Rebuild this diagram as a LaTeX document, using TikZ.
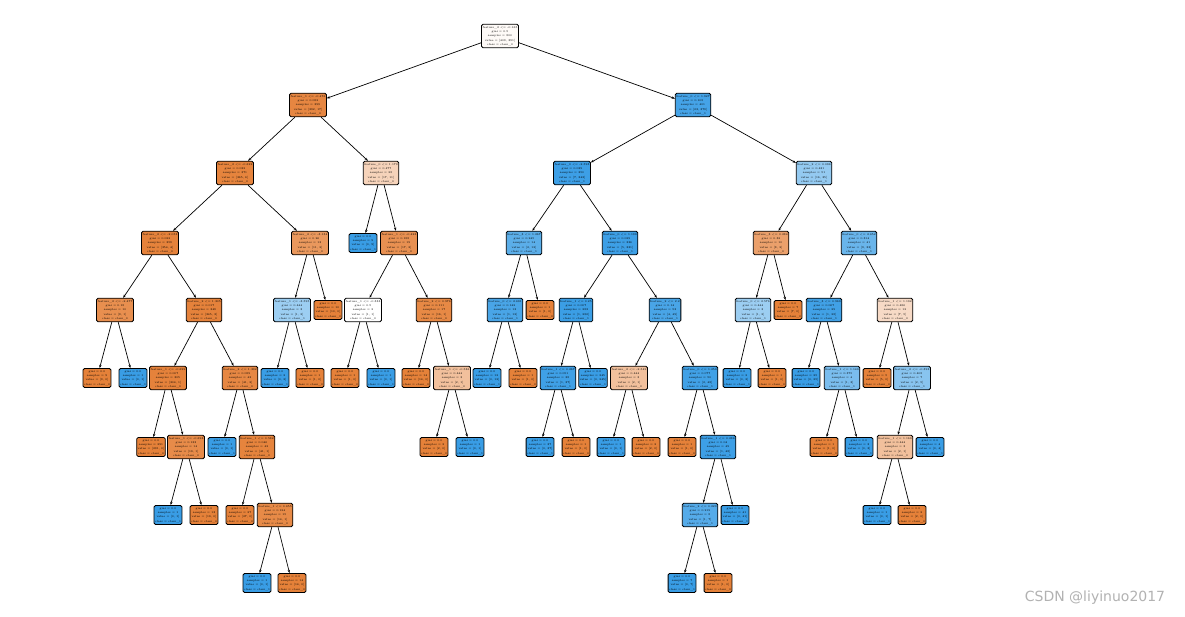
\documentclass[tikz,border=0pt]{standalone}
\usepackage{fontspec}
\usetikzlibrary{arrows.meta}
\newfontfamily\wmfont{DejaVu Sans}
\definecolor{ora}{HTML}{E58139}
\definecolor{blu}{HTML}{399DE5}
\newcommand{\splt}[6]{feature\_#1 <= #2\\gini = #3\\samples = #4\\value = [#5]\\class = class\_#6}
\newcommand{\lft}[3]{gini = 0.0\\samples = #1\\value = [#2]\\class = class\_#3}
\tikzset{
  box/.style={draw, line width=0.8pt, rounded corners=1.5pt, align=center, inner xsep=1pt, inner ysep=2pt, font=\fontsize{2.8}{4.3}\selectfont},
  edge/.style={-{Stealth[length=3.2pt,width=2.4pt]}, line width=0.7pt}
}
\begin{document}
\begin{tikzpicture}[x=1pt, y=-1pt]
		%%%%% START %%%%%
		\useasboundingbox[fill=white] (0,0) rectangle (1185,617);
		
		% level 0 and 1
		\node[box, fill=ora!4] (t) at (500,36) {\splt{2}{-0.165}{0.5}{800}{409, 391}{0}};
		\node[box, fill=ora!96] (t0) at (308,105) {\splt{1}{-0.476}{0.082}{399}{382, 17}{0}};
		\node[box, fill=blu!94] (t1) at (693,105) {\splt{0}{1.827}{0.108}{401}{23, 378}{1}};
		
		% level 2
		\node[box, fill=ora!98] (t00) at (235,173) {\splt{2}{-0.622}{0.032}{371}{365, 6}{0}};
		\node[box, fill=ora!35] (t01) at (381,173) {\splt{0}{1.179}{0.477}{28}{17, 11}{0}};
		\node[box, fill=blu!98] (t10) at (572,173) {\splt{0}{-2.598}{0.039}{350}{7, 343}{1}};
		\node[box, fill=blu!54] (t11) at (814,173) {\splt{2}{0.036}{0.431}{51}{16, 35}{1}};
		
		% level 3
		\node[box, fill=ora!99] (t000) at (160,243) {\splt{2}{-2.053}{0.022}{358}{354, 4}{0}};
		\node[box, fill=ora!82] (t001) at (310,243) {\splt{2}{-3.184}{0.26}{13}{11, 2}{0}};
		\node[box, fill=blu] (t010) at (363,243) {\lft{9}{0, 9}{1}};
		\node[box, fill=ora!88] (t011) at (399,243) {\splt{1}{-0.423}{0.188}{19}{17, 2}{0}};
		\node[box, fill=blu!83] (t100) at (524,243) {\splt{3}{1.267}{0.245}{14}{2, 12}{1}};
		\node[box, fill=blu!98] (t101) at (620,243) {\splt{0}{1.193}{0.029}{336}{5, 331}{1}};
		\node[box, fill=ora!75] (t110) at (771,243) {\splt{3}{0.284}{0.32}{10}{8, 2}{0}};
		\node[box, fill=blu!76] (t111) at (859,243) {\splt{0}{2.652}{0.314}{41}{8, 33}{1}};
		
		% level 4
		\node[box, fill=ora!89] (t0000) at (115,310) {\splt{2}{-2.477}{0.18}{10}{9, 1}{0}};
		\node[box, fill=ora!99] (t0001) at (204,310) {\splt{2}{1.305}{0.017}{348}{345, 3}{0}};
		\node[box, fill=blu!50] (t0010) at (292,310) {\splt{1}{-3.595}{0.444}{3}{1, 2}{1}};
		\node[box, fill=ora] (t0011) at (328,310) {\lft{10}{10, 0}{0}};
		\node[box, fill=white] (t0110) at (363,310) {\splt{1}{-0.833}{0.5}{2}{1, 1}{0}};
		\node[box, fill=ora!94] (t0111) at (434,310) {\splt{2}{0.976}{0.111}{17}{16, 1}{0}};
		\node[box, fill=blu!92] (t1000) at (505,310) {\splt{0}{2.631}{0.142}{13}{1, 12}{1}};
		\node[box, fill=ora] (t1001) at (540,310) {\lft{1}{1, 0}{0}};
		\node[box, fill=blu!99] (t1010) at (576,310) {\splt{1}{0.25}{0.007}{283}{1, 282}{1}};
		\node[box, fill=blu!92] (t1011) at (665,310) {\splt{2}{2.2}{0.14}{53}{4, 49}{1}};
		\node[box, fill=blu!50] (t1100) at (753,310) {\splt{0}{2.576}{0.444}{3}{1, 2}{1}};
		\node[box, fill=ora] (t1101) at (788,310) {\lft{7}{7, 0}{0}};
		\node[box, fill=blu!96] (t1110) at (824,310) {\splt{3}{0.963}{0.067}{29}{1, 28}{1}};
		\node[box, fill=ora!29] (t1111) at (895,310) {\splt{1}{1.132}{0.486}{12}{7, 5}{0}};
		
		% level 5
		\node[box, fill=ora] (t00000) at (97,378) {\lft{9}{9, 0}{0}};
		\node[box, fill=blu] (t00001) at (133,378) {\lft{1}{0, 1}{1}};
		\node[box, fill=ora!99] (t00010) at (168,378) {\splt{1}{-0.699}{0.007}{305}{304, 1}{0}};
		\node[box, fill=ora!95] (t00011) at (240,378) {\splt{2}{1.392}{0.089}{43}{41, 2}{0}};
		\node[box, fill=blu] (t00100) at (275,378) {\lft{2}{0, 2}{1}};
		\node[box, fill=ora] (t00101) at (310,378) {\lft{1}{1, 0}{0}};
		\node[box, fill=ora] (t01100) at (345,378) {\lft{1}{1, 0}{0}};
		\node[box, fill=blu] (t01101) at (381,378) {\lft{1}{0, 1}{1}};
		\node[box, fill=ora] (t01110) at (416,378) {\lft{14}{14, 0}{0}};
		\node[box, fill=ora!50] (t01111) at (452,378) {\splt{1}{-0.536}{0.444}{3}{2, 1}{0}};
		\node[box, fill=blu] (t10000) at (487,378) {\lft{12}{0, 12}{1}};
		\node[box, fill=ora] (t10001) at (523,378) {\lft{1}{1, 0}{0}};
		\node[box, fill=blu!97] (t10100) at (558,378) {\splt{1}{0.267}{0.051}{38}{1, 37}{1}};
		\node[box, fill=blu] (t10101) at (593,378) {\lft{245}{0, 245}{1}};
		\node[box, fill=ora!50] (t10110) at (629,378) {\splt{2}{-2.549}{0.444}{3}{2, 1}{0}};
		\node[box, fill=blu!96] (t10111) at (700,378) {\splt{0}{1.253}{0.077}{50}{2, 48}{1}};
		\node[box, fill=blu] (t11000) at (737,378) {\lft{2}{0, 2}{1}};
		\node[box, fill=ora] (t11001) at (772,378) {\lft{1}{1, 0}{0}};
		\node[box, fill=blu] (t11100) at (806,378) {\lft{25}{0, 25}{1}};
		\node[box, fill=blu!67] (t11101) at (842,378) {\splt{1}{1.143}{0.375}{4}{1, 3}{1}};
		\node[box, fill=ora] (t11110) at (877,378) {\lft{5}{5, 0}{0}};
		\node[box, fill=blu!60] (t11111) at (912,378) {\splt{2}{-0.893}{0.408}{7}{2, 5}{1}};
		
		% level 6
		\node[box, fill=ora] (t000100) at (151,447) {\lft{291}{291, 0}{0}};
		\node[box, fill=ora!92] (t000101) at (186,447) {\splt{1}{-0.693}{0.133}{14}{13, 1}{0}};
		\node[box, fill=blu] (t000110) at (222,447) {\lft{1}{0, 1}{1}};
		\node[box, fill=ora!98] (t000111) at (257,447) {\splt{1}{0.582}{0.046}{42}{41, 1}{0}};
		\node[box, fill=ora] (t011110) at (434,447) {\lft{2}{2, 0}{0}};
		\node[box, fill=blu] (t011111) at (470,447) {\lft{1}{0, 1}{1}};
		\node[box, fill=blu] (t101000) at (540,447) {\lft{37}{0, 37}{1}};
		\node[box, fill=ora] (t101001) at (576,447) {\lft{1}{1, 0}{0}};
		\node[box, fill=blu] (t101100) at (611,447) {\lft{1}{0, 1}{1}};
		\node[box, fill=ora] (t101101) at (646,447) {\lft{2}{2, 0}{0}};
		\node[box, fill=ora] (t101110) at (682,447) {\lft{1}{1, 0}{0}};
		\node[box, fill=blu!98] (t101111) at (718,447) {\splt{1}{0.286}{0.04}{49}{1, 48}{1}};
		\node[box, fill=ora] (t111010) at (824,447) {\lft{1}{1, 0}{0}};
		\node[box, fill=blu] (t111011) at (859,447) {\lft{3}{0, 3}{1}};
		\node[box, fill=ora!50] (t111110) at (895,447) {\splt{1}{1.163}{0.444}{3}{2, 1}{0}};
		\node[box, fill=blu] (t111111) at (930,447) {\lft{4}{0, 4}{1}};
		
		% level 7
		\node[box, fill=blu] (t0001010) at (168,515) {\lft{1}{0, 1}{1}};
		\node[box, fill=ora] (t0001011) at (204,515) {\lft{13}{13, 0}{0}};
		\node[box, fill=ora] (t0001110) at (240,515) {\lft{27}{27, 0}{0}};
		\node[box, fill=ora!93] (t0001111) at (275,515) {\splt{1}{0.655}{0.124}{15}{14, 1}{0}};
		\node[box, fill=blu!86] (t1011110) at (700,515) {\splt{2}{0.229}{0.219}{8}{1, 7}{1}};
		\node[box, fill=blu] (t1011111) at (735,515) {\lft{41}{0, 41}{1}};
		\node[box, fill=blu] (t1111100) at (877,515) {\lft{1}{0, 1}{1}};
		\node[box, fill=ora] (t1111101) at (912,515) {\lft{2}{2, 0}{0}};
		
		% level 8
		\node[box, fill=blu] (t00011110) at (257,583) {\lft{1}{0, 1}{1}};
		\node[box, fill=ora] (t00011111) at (292,583) {\lft{14}{14, 0}{0}};
		\node[box, fill=blu] (t10111100) at (682,583) {\lft{7}{0, 7}{1}};
		\node[box, fill=ora] (t10111101) at (718,583) {\lft{1}{1, 0}{0}};
		
		% edges
		\draw[edge] (t) -- (t0); \draw[edge] (t) -- (t1);
		\draw[edge] (t0) -- (t00); \draw[edge] (t0) -- (t01);
		\draw[edge] (t1) -- (t10); \draw[edge] (t1) -- (t11);
		\draw[edge] (t00) -- (t000); \draw[edge] (t00) -- (t001);
		\draw[edge] (t01) -- (t010); \draw[edge] (t01) -- (t011);
		\draw[edge] (t10) -- (t100); \draw[edge] (t10) -- (t101);
		\draw[edge] (t11) -- (t110); \draw[edge] (t11) -- (t111);
		\draw[edge] (t000) -- (t0000); \draw[edge] (t000) -- (t0001);
		\draw[edge] (t001) -- (t0010); \draw[edge] (t001) -- (t0011);
		\draw[edge] (t011) -- (t0110); \draw[edge] (t011) -- (t0111);
		\draw[edge] (t100) -- (t1000); \draw[edge] (t100) -- (t1001);
		\draw[edge] (t101) -- (t1010); \draw[edge] (t101) -- (t1011);
		\draw[edge] (t110) -- (t1100); \draw[edge] (t110) -- (t1101);
		\draw[edge] (t111) -- (t1110); \draw[edge] (t111) -- (t1111);
		\draw[edge] (t0000) -- (t00000); \draw[edge] (t0000) -- (t00001);
		\draw[edge] (t0001) -- (t00010); \draw[edge] (t0001) -- (t00011);
		\draw[edge] (t0010) -- (t00100); \draw[edge] (t0010) -- (t00101);
		\draw[edge] (t0110) -- (t01100); \draw[edge] (t0110) -- (t01101);
		\draw[edge] (t0111) -- (t01110); \draw[edge] (t0111) -- (t01111);
		\draw[edge] (t1000) -- (t10000); \draw[edge] (t1000) -- (t10001);
		\draw[edge] (t1010) -- (t10100); \draw[edge] (t1010) -- (t10101);
		\draw[edge] (t1011) -- (t10110); \draw[edge] (t1011) -- (t10111);
		\draw[edge] (t1100) -- (t11000); \draw[edge] (t1100) -- (t11001);
		\draw[edge] (t1110) -- (t11100); \draw[edge] (t1110) -- (t11101);
		\draw[edge] (t1111) -- (t11110); \draw[edge] (t1111) -- (t11111);
		\draw[edge] (t00010) -- (t000100); \draw[edge] (t00010) -- (t000101);
		\draw[edge] (t00011) -- (t000110); \draw[edge] (t00011) -- (t000111);
		\draw[edge] (t01111) -- (t011110); \draw[edge] (t01111) -- (t011111);
		\draw[edge] (t10100) -- (t101000); \draw[edge] (t10100) -- (t101001);
		\draw[edge] (t10110) -- (t101100); \draw[edge] (t10110) -- (t101101);
		\draw[edge] (t10111) -- (t101110); \draw[edge] (t10111) -- (t101111);
		\draw[edge] (t11101) -- (t111010); \draw[edge] (t11101) -- (t111011);
		\draw[edge] (t11111) -- (t111110); \draw[edge] (t11111) -- (t111111);
		\draw[edge] (t000101) -- (t0001010); \draw[edge] (t000101) -- (t0001011);
		\draw[edge] (t000111) -- (t0001110); \draw[edge] (t000111) -- (t0001111);
		\draw[edge] (t101111) -- (t1011110); \draw[edge] (t101111) -- (t1011111);
		\draw[edge] (t111110) -- (t1111100); \draw[edge] (t111110) -- (t1111101);
		\draw[edge] (t0001111) -- (t00011110); \draw[edge] (t0001111) -- (t00011111);
		\draw[edge] (t1011110) -- (t10111100); \draw[edge] (t1011110) -- (t10111101);
		
		% watermark
		\node[text=black!30, font=\wmfont\fontsize{14}{16}\selectfont] (wm) at (1095,598) {CSDN @liyinuo2017};
		
		%%%%% END %%%%%
	\end{tikzpicture}
\end{document}
